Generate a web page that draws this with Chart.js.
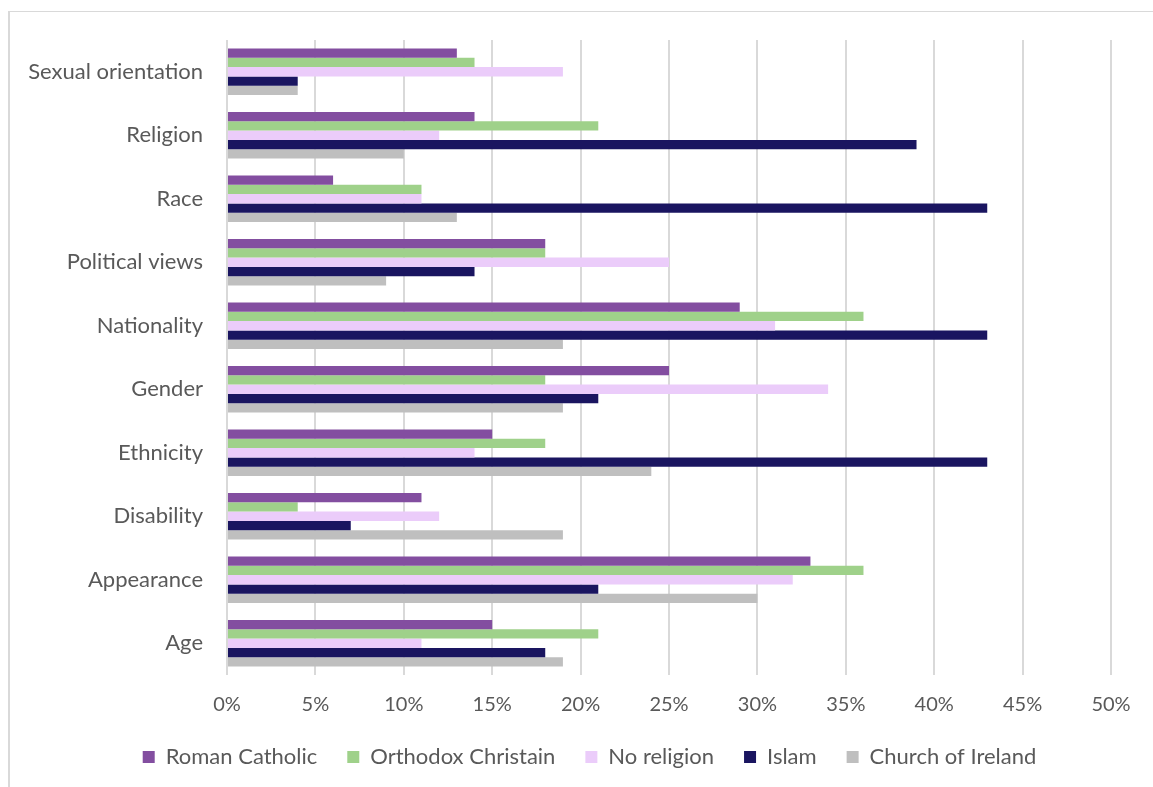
<!DOCTYPE html>
<html>
<head>
<meta charset="utf-8">
<script src="https://cdn.jsdelivr.net/npm/chart.js@4"></script>
<style>
  html, body { margin: 0; padding: 0; background: #fff; }
  body { width: 1153px; height: 787px; position: relative; overflow: hidden; }
  .frame {
    position: absolute; left: 8px; top: 11px; width: 1150px; height: 800px;
    border-left: 2px solid #d9d9d9; border-top: 1px solid #d9d9d9;
  }
  #wrap { position: absolute; left: 0; top: 0; width: 1153px; height: 787px; }
</style>
</head>
<body>
<div class="frame"></div>
<div id="wrap"><canvas id="chart"></canvas></div>
<script>
  // categories, top to bottom
  const categories = ['Sexual orientation', 'Religion', 'Race', 'Political views', 'Nationality',
    'Gender', 'Ethnicity', 'Disability', 'Appearance', 'Age'];

  // values in percent
  const romanCatholic = [13, 14, 6, 18, 29, 25, 15, 11, 33, 15];
  const orthodoxChristain = [14, 21, 11, 18, 36, 18, 18, 4, 36, 21];
  const noReligion = [19, 12, 11, 25, 31, 34, 14, 12, 32, 11];
  const islam = [4, 39, 43, 14, 43, 21, 43, 7, 21, 18];
  const churchOfIreland = [4, 10, 13, 9, 19, 19, 24, 19, 30, 19];

  const xTicks = [0, 5, 10, 15, 20, 25, 30, 35, 40, 45, 50];

  const FONT = 'Lato, "Open Sans", sans-serif';
  const TEXT = '#595959';

  function ds(label, data, color) {
    return { label: label, data: data, backgroundColor: color, borderWidth: 0,
      barPercentage: 1, categoryPercentage: 0.73 };
  }

  // nudge the legend right so it sits like the original
  const legendShift = {
    id: 'legendShift',
    afterLayout: function (chart) {
      if (chart.legend) {
        chart.legend.left += 34;
        chart.legend.right += 34;
      }
    }
  };

  new Chart(document.getElementById('chart'), {
    type: 'bar',
    data: {
      labels: categories,
      datasets: [
        ds('Roman Catholic', romanCatholic, '#834ea0'),
        ds('Orthodox Christain', orthodoxChristain, '#9fd18a'),
        ds('No religion', noReligion, '#ebccfa'),
        ds('Islam', islam, '#1a1560'),
        ds('Church of Ireland', churchOfIreland, '#bfbfbf')
      ]
    },
    plugins: [legendShift],
    options: {
      indexAxis: 'y',
      responsive: true,
      maintainAspectRatio: false,
      animation: false,
      layout: { padding: { top: 40, right: 42, bottom: 9, left: 0 } },
      plugins: {
        tooltip: { enabled: false },
        legend: {
          position: 'bottom',
          labels: {
            boxWidth: 12, boxHeight: 12, padding: 30,
            color: TEXT, font: { family: FONT, size: 22 }
          }
        }
      },
      scales: {
        x: {
          min: 0, max: 50,
          afterBuildTicks: function (s) { s.ticks = xTicks.map(function (v) { return { value: v }; }); },
          afterFit: function (s) { s.height = 41; },
          grid: { color: '#d9d9d9', lineWidth: 2, drawTicks: false },
          border: { display: false },
          ticks: { padding: 18, color: TEXT, font: { family: FONT, size: 20 },
            callback: function (v) { return v + '%'; } }
        },
        y: {
          afterFit: function (s) { s.width = 227; },
          grid: { display: false },
          border: { display: false },
          ticks: { padding: 16, color: TEXT, font: { family: FONT, size: 22 } }
        }
      }
    }
  });
</script>
</body>
</html>
